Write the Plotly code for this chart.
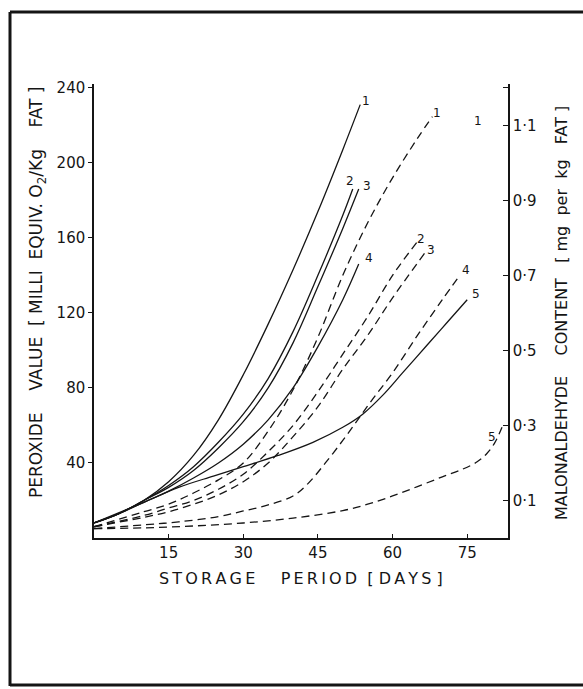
import plotly.graph_objects as go

# ---------------- data ----------------
# Peroxide value (left axis, milli equiv O2 / kg fat) -- solid curves
s1_days = [0, 5, 10, 15, 20, 25, 30, 35, 40, 45, 50, 53.5]
s1_vals = [8, 13, 20, 30, 44, 63, 87, 114, 143, 174, 207, 231]

s2_days = [0, 5, 10, 15, 20, 25, 30, 35, 40, 45, 50, 52]
s2_vals = [8, 13, 20, 28, 38, 51, 66, 85, 110, 140, 172, 186]

s3_days = [0, 5, 10, 15, 20, 25, 30, 35, 40, 45, 50, 53.2]
s3_vals = [8, 13, 20, 27, 36, 48, 62, 80, 104, 134, 165, 186]

s4_days = [0, 5, 10, 15, 20, 25, 30, 35, 40, 45, 50, 53.2]
s4_vals = [8, 13, 19, 25, 32, 40, 50, 63, 80, 102, 127, 146]

s5_days = [0, 10, 17, 24, 30, 37, 44, 50, 54, 58, 62, 67, 71, 75]
s5_vals = [8, 19, 27, 33, 38, 44, 51, 59, 66, 76, 88, 103, 115, 127]

# Malonaldehyde content (right axis, mg per kg fat) -- dashed curves
d1_days = [0, 10, 15, 20, 25, 30, 35, 40, 45, 50, 55, 60, 65, 68]
d1_vals = [0.03, 0.07, 0.09, 0.12, 0.155, 0.2, 0.285, 0.395, 0.535, 0.70, 0.84, 0.96, 1.065, 1.123]

d2_days = [0, 10, 15, 20, 25, 30, 35, 40, 45, 50, 55, 60, 65]
d2_vals = [0.03, 0.06, 0.08, 0.10, 0.13, 0.17, 0.23, 0.30, 0.39, 0.49, 0.59, 0.70, 0.79]

d3_days = [0, 10, 15, 20, 25, 30, 35, 40, 45, 50, 55, 60, 66.5]
d3_vals = [0.03, 0.055, 0.07, 0.09, 0.115, 0.15, 0.20, 0.27, 0.35, 0.45, 0.54, 0.64, 0.76]

d4_days = [0, 10, 17, 25, 30, 35, 40, 43, 46.5, 50, 53, 56, 60, 65, 70, 73.5]
d4_vals = [0.025, 0.035, 0.043, 0.057, 0.072, 0.088, 0.112, 0.145, 0.20, 0.26, 0.315, 0.37, 0.44, 0.54, 0.635, 0.70]

d5_days = [0, 10, 20, 30, 40, 50, 55, 60, 65, 70, 74, 77, 79, 80.5, 82]
d5_vals = [0.025, 0.027, 0.032, 0.04, 0.053, 0.073, 0.09, 0.112, 0.137, 0.163, 0.183, 0.203, 0.226, 0.253, 0.295]

x_ticks = [15, 30, 45, 60, 75]
y_ticks = [40, 80, 120, 160, 200, 240]
y2_ticks = [0.1, 0.3, 0.5, 0.7, 0.9, 1.1, 1.2]
y2_text = ["0·1", "0·3", "0·5", "0·7", "0·9", "1·1", ""]

solid = [("1", s1_days, s1_vals, 6, 4), ("2", s2_days, s2_vals, -3, 8),
         ("3", s3_days, s3_vals, 8, 3), ("4", s4_days, s4_vals, 10, 6),
         ("5", s5_days, s5_vals, 9, 6)]
dashed = [("1", d1_days, d1_vals, 5, 4), ("2", d2_days, d2_vals, 4, 3),
          ("3", d3_days, d3_vals, 6, 3), ("4", d4_days, d4_vals, 6, 5),
          ("5", d5_days, d5_vals, -10, -10)]

# ---------------- layout geometry ----------------
W, H = 583, 689
L, R, T, B = 94, 75, 84, 151
PW, PH = W - L - R, H - T - B
FONT = "DejaVu Sans"
INK = "#151515"
TS = "\u2009"  # thin space for letter spacing


def px(x):
    return (x - L) / PW


def py(y):
    return (H - B - y) / PH


def spaced(word):
    return TS.join(word)


fig = go.Figure()
annotations = []

for name, xs, ys, dx, dy in solid:
    fig.add_trace(go.Scatter(x=xs, y=ys, mode="lines", yaxis="y",
                             line=dict(color=INK, width=1.3, shape="spline", smoothing=1.0),
                             showlegend=False, hoverinfo="skip"))
    annotations.append(dict(x=xs[-1], y=ys[-1], xref="x", yref="y", text=name,
                            showarrow=False, xshift=dx, yshift=dy,
                            font=dict(family=FONT, size=12, color=INK)))

for name, xs, ys, dx, dy in dashed:
    fig.add_trace(go.Scatter(x=xs, y=ys, mode="lines", yaxis="y2",
                             line=dict(color=INK, width=1.3, dash="8px,5px", shape="spline", smoothing=1.0),
                             showlegend=False, hoverinfo="skip"))
    annotations.append(dict(x=xs[-1], y=ys[-1], xref="x", yref="y2", text=name,
                            showarrow=False, xshift=dx, yshift=dy,
                            font=dict(family=FONT, size=12, color=INK)))

# stray label near the top right
annotations.append(dict(x=px(484), y=py(112), xref="paper", yref="paper", text="1",
                        showarrow=False, font=dict(family=FONT, size=12, color=INK)))

# axis titles
annotations.append(dict(
    x=px(37), y=py(292), xref="paper", yref="paper", textangle=-90, showarrow=False,
    xanchor="center", yanchor="middle",
    text="PEROXIDE    VALUE  [ MILLI  EQUIV. O<sub>2</sub>/Kg    FAT ]",
    font=dict(family=FONT, size=17, color=INK)))
annotations.append(dict(
    x=px(561), y=py(313), xref="paper", yref="paper", textangle=-90, showarrow=False,
    xanchor="center", yanchor="middle",
    text="MALONALDEHYDE    CONTENT   [ mg  per  kg   FAT ]",
    font=dict(family=FONT, size=16, color=INK)))
annotations.append(dict(
    x=px(301), y=py(578), xref="paper", yref="paper", showarrow=False,
    xanchor="center", yanchor="middle",
    text=spaced("STORAGE") + "     " + spaced("PERIOD") + "  [ " + spaced("DAYS") + " ]",
    font=dict(family=FONT, size=16, color=INK)))

# border of the page
frame = dict(type="line", xref="paper", yref="paper", line=dict(color=INK, width=3))
shapes = [
    dict(frame, x0=px(10), y0=py(12), x1=px(583), y1=py(12)),
    dict(frame, x0=px(10), y0=py(12), x1=px(10), y1=py(686)),
    dict(frame, x0=px(10), y0=py(685), x1=px(583), y1=py(685)),
]

fig.update_layout(
    width=W, height=H,
    margin=dict(l=L, r=R, t=T, b=B, pad=0),
    paper_bgcolor="white", plot_bgcolor="white",
    font=dict(family=FONT, size=14, color=INK),
    xaxis=dict(range=[0, 83.2], tickvals=x_ticks, ticks="inside", ticklen=4,
               tickcolor=INK, showline=True, linecolor=INK, linewidth=1.5,
               showgrid=False, zeroline=False, tickfont=dict(size=15)),
    yaxis=dict(range=[0, 242], tickvals=y_ticks, ticks="outside", ticklen=4,
               tickcolor=INK, showline=True, linecolor=INK, linewidth=1.5,
               showgrid=False, zeroline=False, tickfont=dict(size=15)),
    yaxis2=dict(range=[0, 1.21], overlaying="y", side="right", tickvals=y2_ticks,
                ticktext=y2_text, ticks="inside", ticklen=5, tickcolor=INK,
                showline=True, linecolor=INK, linewidth=1.5, showgrid=False,
                zeroline=False, tickfont=dict(size=15)),
    annotations=annotations,
    shapes=shapes,
)

fig.write_html("out.html")
